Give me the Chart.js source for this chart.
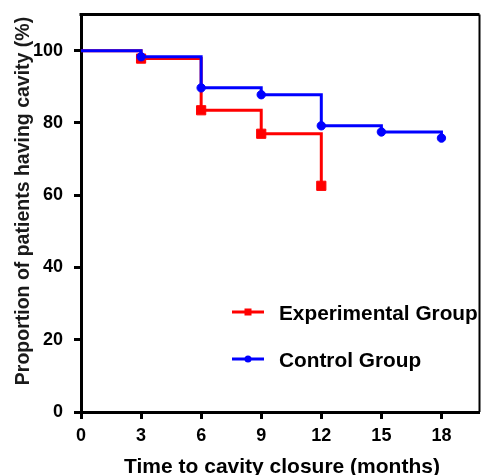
<!DOCTYPE html>
<html>
<head>
<meta charset="utf-8">
<script src="https://cdn.jsdelivr.net/npm/chart.js@4/dist/chart.umd.min.js"></script>
<style>
  html, body { margin: 0; padding: 0; background: #fff; }
  #wrap { width: 481px; height: 475px; }
</style>
</head>
<body>
<div id="wrap"><canvas id="c" width="481" height="475"></canvas></div>
<script>
// Kaplan-Meier style survival of open cavities
const months = [0, 3, 6, 9, 12, 15, 18];
const experimental = [100, 97.8, 83.5, 77.0, 62.6];
const control = [100, 98.3, 89.7, 87.8, 79.2, 77.5, 75.8];
const seriesNames = ['Experimental Group', 'Control Group'];
const xTickValues = [0, 3, 6, 9, 12, 15, 18];
const yTickValues = [0, 20, 40, 60, 80, 100];
const xTitle = 'Time to cavity closure (months)';
const yTitle = 'Proportion of patients having cavity (%)';

const FONT = '"Liberation Sans", Arial, Helvetica, sans-serif';
const RED = '#ff0000';
const BLUE = '#0000ff';

const toPoints = (vals) => vals.map((v, i) => ({ x: months[i], y: v }));

// top and right frame lines of the plot box
const framePlugin = {
  id: 'frame',
  afterDraw(chart) {
    const { ctx, chartArea: a } = chart;
    ctx.save();
    ctx.strokeStyle = '#000';
    ctx.lineWidth = 3;
    ctx.beginPath();
    ctx.moveTo(a.left - 1.5, a.top);
    ctx.lineTo(a.right, a.top);
    ctx.stroke();
    ctx.lineWidth = 2;
    ctx.beginPath();
    ctx.moveTo(a.right, a.top);
    ctx.lineTo(a.right, a.bottom);
    ctx.stroke();
    ctx.restore();
  }
};

// axis titles
const titlePlugin = {
  id: 'axisTitles',
  afterDraw(chart) {
    const { ctx } = chart;
    ctx.save();
    ctx.fillStyle = '#000';
    ctx.font = 'bold 21px ' + FONT;
    ctx.textAlign = 'center';
    ctx.textBaseline = 'alphabetic';
    ctx.fillText(xTitle, 282, 473);
    ctx.translate(29, 201);
    ctx.rotate(-Math.PI / 2);
    ctx.fillStyle = '#1a1a1a';
    ctx.font = 'bold 19.5px ' + FONT;
    ctx.fillText(yTitle, 0, 0);
    ctx.restore();
  }
};

// legend with line + marker samples, placed inside the plot area
const legendPlugin = {
  id: 'lineLegend',
  afterDraw(chart) {
    const { ctx } = chart;
    const rows = [
      { ds: chart.data.datasets[0], y: 312, base: 319.5 },
      { ds: chart.data.datasets[1], y: 359, base: 366.5 }
    ];
    ctx.save();
    rows.forEach(r => {
      ctx.strokeStyle = r.ds.borderColor;
      ctx.fillStyle = r.ds.borderColor;
      ctx.lineWidth = 3;
      ctx.beginPath();
      ctx.moveTo(232, r.y);
      ctx.lineTo(264, r.y);
      ctx.stroke();
      if (r.ds.pointStyle === 'rect') {
        ctx.fillRect(244.5, r.y - 3.5, 7, 7);
      } else {
        ctx.beginPath();
        ctx.arc(248, r.y, 3.5, 0, Math.PI * 2);
        ctx.fill();
      }
      ctx.fillStyle = '#000';
      ctx.font = 'bold 20.8px ' + FONT;
      ctx.textAlign = 'left';
      ctx.textBaseline = 'alphabetic';
      ctx.fillText(r.ds.label, 279, r.base);
    });
    ctx.restore();
  }
};

const axisGrid = {
  display: true,
  drawOnChartArea: false,
  drawTicks: true,
  tickLength: 7,
  tickWidth: 3,
  color: '#000'
};

new Chart(document.getElementById('c'), {
  type: 'line',
  data: {
    datasets: [
      {
        label: seriesNames[0],
        data: toPoints(experimental),
        borderColor: RED,
        backgroundColor: RED,
        borderWidth: 3,
        stepped: 'before',
        pointStyle: 'rect',
        pointRadius: (c) => (c.dataIndex === 0 ? 0 : 6.5),
        pointBorderWidth: 1,
        pointBackgroundColor: RED,
        pointBorderColor: RED,
        fill: false,
        order: 1
      },
      {
        label: seriesNames[1],
        data: toPoints(control),
        borderColor: BLUE,
        backgroundColor: BLUE,
        borderWidth: 3,
        stepped: 'before',
        pointStyle: 'circle',
        pointRadius: (c) => (c.dataIndex === 0 ? 0 : 4.2),
        pointBorderWidth: 1,
        pointBackgroundColor: BLUE,
        pointBorderColor: BLUE,
        fill: false,
        order: 0
      }
    ]
  },
  options: {
    responsive: false,
    animation: false,
    devicePixelRatio: 1,
    layout: { autoPadding: false, padding: { top: 14.5, right: 1.5, left: 0, bottom: 0 } },
    plugins: {
      legend: { display: false },
      tooltip: { enabled: false }
    },
    scales: {
      x: {
        type: 'linear',
        position: 'bottom',
        min: 0,
        max: 19.9,
        afterBuildTicks: (s) => { s.ticks = xTickValues.map(v => ({ value: v })); },
        afterFit: (s) => {
          s.height = 63;
          s.paddingLeft = 0; s.paddingRight = 0; s.paddingTop = 0; s.paddingBottom = 0;
        },
        grid: axisGrid,
        border: { display: true, width: 3, color: '#000' },
        ticks: {
          color: '#000',
          font: { family: FONT, size: 18, weight: 'bold' },
          padding: 6,
          maxRotation: 0
        }
      },
      y: {
        type: 'linear',
        position: 'left',
        min: 0,
        max: 110,
        afterBuildTicks: (s) => { s.ticks = yTickValues.map(v => ({ value: v })); },
        afterFit: (s) => {
          s.width = 81;
          s.paddingLeft = 0; s.paddingRight = 0; s.paddingTop = 0; s.paddingBottom = 0;
        },
        grid: axisGrid,
        border: { display: true, width: 3, color: '#000' },
        ticks: {
          color: '#000',
          font: { family: FONT, size: 18, weight: 'bold' },
          padding: 11
        }
      }
    }
  },
  plugins: [framePlugin, titlePlugin, legendPlugin]
});
</script>
</body>
</html>
